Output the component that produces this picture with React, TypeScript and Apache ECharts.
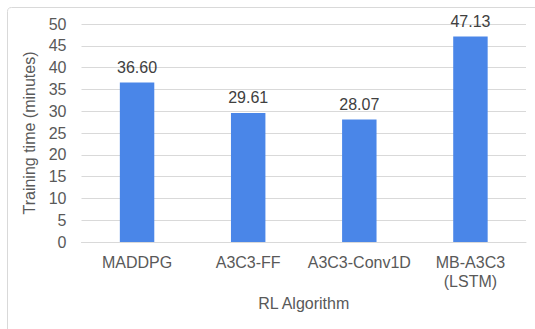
import React, { useEffect, useRef } from "react";
import * as echarts from "echarts";

const categories = ["MADDPG", "A3C3-FF", "A3C3-Conv1D", "MB-A3C3\n(LSTM)"];
const trainingMinutes = [36.6, 29.61, 28.07, 47.13];
const yTicks = { min: 0, max: 50, interval: 5 };

export default function App() {
  const ref = useRef<HTMLDivElement>(null);
  useEffect(() => {
    document.body.style.margin = "0";
    const chart = echarts.init(ref.current!, null, { renderer: "svg" });
    const font = "'Liberation Sans', Arial, sans-serif";
    chart.setOption({
      animation: false,
      backgroundColor: "#ffffff",
      textStyle: { fontFamily: font },
      graphic: [
        {
          type: "rect",
          shape: { x: 7.5, y: 7.5, width: 700, height: 500, r: 4 },
          style: { fill: "none", stroke: "#d9d9d9", lineWidth: 1 },
          silent: true,
        },
      ],
      grid: { left: 81.5, right: 9, top: 24, bottom: 87 },
      xAxis: {
        type: "category",
        data: categories,
        name: "RL Algorithm",
        nameLocation: "middle",
        nameGap: 52,
        nameTextStyle: { color: "#595959", fontSize: 16, fontFamily: font },
        axisLine: { show: true, lineStyle: { color: "#d9d9d9", width: 1 } },
        axisTick: { show: false },
        axisLabel: {
          color: "#595959",
          fontSize: 16,
          fontFamily: font,
          margin: 11,
          lineHeight: 19,
          interval: 0,
        },
      },
      yAxis: {
        type: "value",
        min: yTicks.min,
        max: yTicks.max,
        interval: yTicks.interval,
        name: "Training time (minutes)",
        nameLocation: "middle",
        nameGap: 35,
        nameRotate: 90,
        nameTextStyle: { color: "#595959", fontSize: 16, fontFamily: font },
        axisLine: { show: false },
        axisTick: { show: false },
        axisLabel: { color: "#595959", fontSize: 16, fontFamily: font, margin: 15 },
        splitLine: { show: true, lineStyle: { color: "#d9d9d9", width: 1 } },
      },
      series: [
        {
          type: "bar",
          data: trainingMinutes,
          barWidth: "31%",
          itemStyle: { color: "#4a86e8" },
          label: {
            show: true,
            position: "top",
            distance: 7,
            color: "#404040",
            fontSize: 16,
            fontFamily: font,
            formatter: (p: any) => Number(p.value).toFixed(2),
          },
        },
      ],
    });
    return () => chart.dispose();
  }, []);
  return <div ref={ref} style={{ width: 535, height: 329 }} />;
}
